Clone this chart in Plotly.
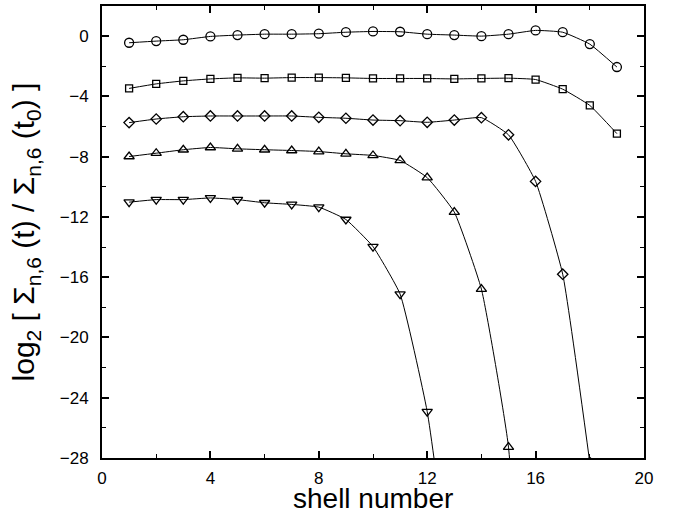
import plotly.graph_objects as go

shell = list(range(1, 20))

circle_vals = [-0.44, -0.33, -0.24, -0.02, 0.07, 0.13, 0.13, 0.16, 0.26, 0.31,
               0.29, 0.13, 0.07, 0.0, 0.13, 0.38, 0.26, -0.53, -2.05]
square_vals = [-3.47, -3.17, -2.97, -2.84, -2.77, -2.79, -2.75, -2.75, -2.77, -2.81,
               -2.81, -2.81, -2.84, -2.81, -2.79, -2.88, -3.52, -4.6, -6.47]
diamond_vals = [-5.74, -5.5, -5.35, -5.3, -5.3, -5.3, -5.3, -5.39, -5.45, -5.57,
                -5.61, -5.72, -5.57, -5.41, -6.55, -9.64, -15.8, -28.3]
tri_up_vals = [-7.99, -7.77, -7.54, -7.39, -7.48, -7.54, -7.59, -7.66, -7.81, -7.92,
               -8.25, -9.39, -11.68, -16.79, -27.28, -60.0]
tri_down_vals = [-11.02, -10.85, -10.85, -10.74, -10.85, -11.06, -11.17, -11.35, -12.17, -13.97,
                 -17.12, -24.92, -38.3]

series = [
    ("circle", circle_vals, "circle-open", 9),
    ("square", square_vals, "square-open", 7),
    ("diamond", diamond_vals, "diamond-open", 8),
    ("triangle-up", tri_up_vals, "triangle-up-open", 9),
    ("triangle-down", tri_down_vals, "triangle-down-open", 9),
]

x_ticks = [0, 4, 8, 12, 16, 20]
y_ticks = [0, -4, -8, -12, -16, -20, -24, -28]

FONT = "Liberation Sans, Arial, sans-serif"

fig = go.Figure()
for name, vals, sym, sz in series:
    fig.add_trace(go.Scatter(
        x=shell[:len(vals)], y=vals, mode="lines+markers", name=name,
        line=dict(color="black", width=1, shape="spline", smoothing=0.4),
        marker=dict(symbol=sym, size=sz, color="black", line=dict(width=1.3, color="black")),
        showlegend=False, cliponaxis=True,
    ))

axis_common = dict(
    showgrid=False, zeroline=False, showline=True, linecolor="black", linewidth=2,
    mirror="allticks", ticks="inside", ticklen=7, tickwidth=1.5, tickcolor="black",
    tickfont=dict(family=FONT, size=17, color="black"), automargin=False,
)

fig.update_xaxes(
    range=[0, 20], tickvals=x_ticks, ticktext=[str(v) for v in x_ticks],
    minor=dict(ticks="inside", dtick=2, tick0=0, ticklen=4, tickcolor="black", tickwidth=1),
    ticklabelstandoff=4,
    **axis_common,
)
fig.update_yaxes(
    range=[-28, 2], tickvals=y_ticks, ticktext=["0" if v == 0 else "\u2212" + str(-v) for v in y_ticks],
    minor=dict(ticks="inside", dtick=2, tick0=0, ticklen=4, tickcolor="black", tickwidth=1),
    ticklabelstandoff=8,
    title=dict(text="log<sub>2</sub> [ \u03a3<sub>n,6</sub> (t) / \u03a3<sub>n,6</sub> (t<sub>0</sub>) ]",
               font=dict(family=FONT, size=30, color="black"), standoff=16),
    **axis_common,
)

fig.add_annotation(
    text="shell number", xref="paper", yref="paper", x=0.5, y=-57 / 452,
    xanchor="center", yanchor="bottom", showarrow=False, borderpad=0,
    font=dict(family=FONT, size=28, color="black"),
)

fig.update_layout(
    width=674, height=515,
    margin=dict(l=102, r=30, t=6, b=57),
    plot_bgcolor="white", paper_bgcolor="white",
)

fig.write_html("out.html", config={"displayModeBar": False},
               post_script="document.body.style.margin='0';")
